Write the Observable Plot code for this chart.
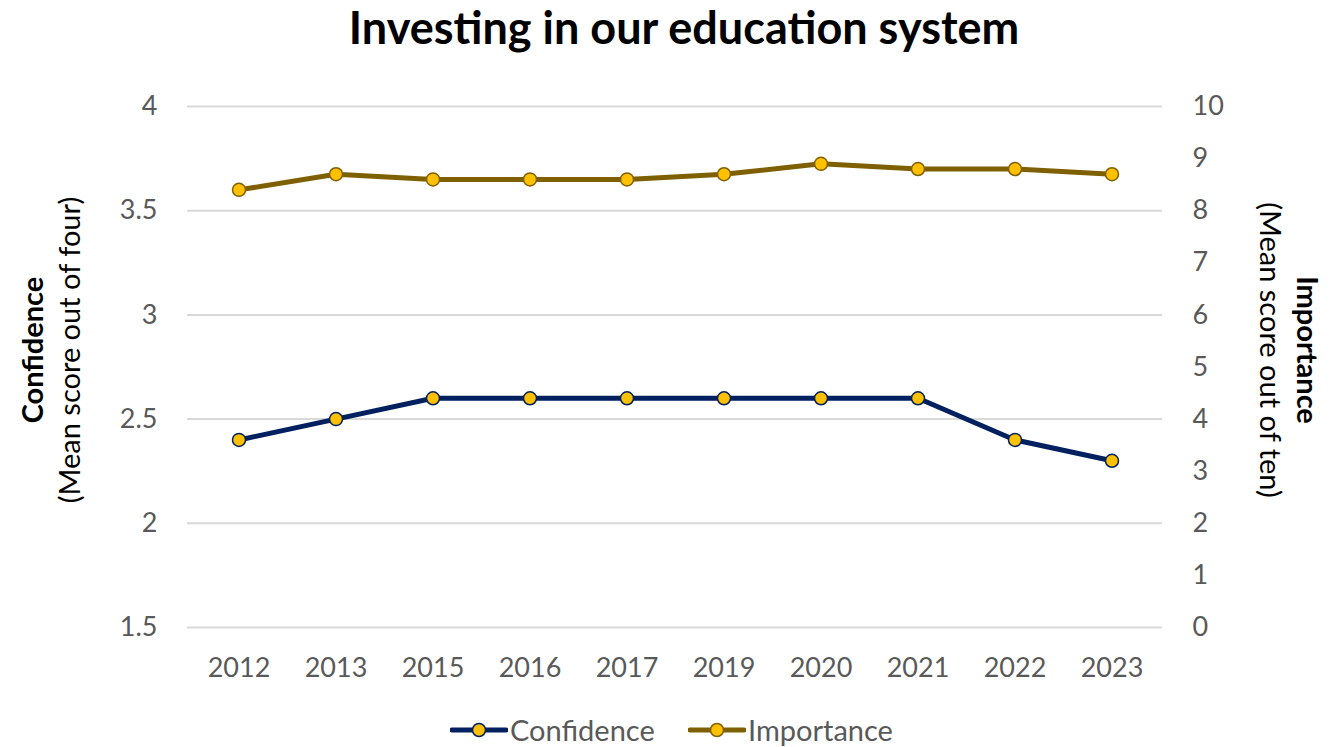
<!DOCTYPE html>
<html>
<head>
<meta charset="utf-8">
<script src="https://cdn.jsdelivr.net/npm/d3@7"></script>
<script src="https://cdn.jsdelivr.net/npm/@observablehq/plot@0.6"></script>
<style>
  html, body { margin: 0; padding: 0; background: #fff; }
  body { width: 1340px; height: 747px; overflow: hidden; font-family: Lato, "Open Sans", sans-serif; }
  #title { height: 60px; line-height: 54px; text-align: center; font-weight: bold; font-size: 45px; color: #000; padding-left: 28px; box-sizing: border-box; }
  #chart svg { display: block; }
  #legend { height: 47px; position: relative; font-size: 29px; color: #595959; }
  .item { position: absolute; top: 12px; display: flex; align-items: center; }
</style>
</head>
<body>
<div id="title">Investing in our education system</div>
<div id="chart"></div>
<div id="legend"></div>
<script>
const years = ["2012","2013","2015","2016","2017","2019","2020","2021","2022","2023"];
const confidence = [2.4, 2.5, 2.6, 2.6, 2.6, 2.6, 2.6, 2.6, 2.4, 2.3];
const importance = [8.4, 8.7, 8.6, 8.6, 8.6, 8.7, 8.9, 8.8, 8.8, 8.7];
const leftTicks = [1.5, 2, 2.5, 3, 3.5, 4];
const rightTicks = [0, 1, 2, 3, 4, 5, 6, 7, 8, 9, 10];

const navy = "#002060", gold = "#7F6000", markerFill = "#FFC000", gray = "#595959";
// right axis (0-10) mapped onto left axis (1.5-4)
const toLeft = v => 1.5 + v * 0.25;
const fromLeft = c => Math.round((c - 1.5) * 4);

const conf = years.map((y, i) => ({year: y, value: confidence[i]}));
const imp = years.map((y, i) => ({year: y, value: importance[i]}));

const W = 1340, H = 640;
const plot = Plot.plot({
  width: W, height: H,
  marginLeft: 187, marginRight: 178, marginTop: 46, marginBottom: 73,
  style: {fontFamily: "Lato, 'Open Sans', sans-serif", fontSize: "27px", color: gray, background: "#fff"},
  x: {type: "band", domain: years, padding: 0},
  y: {domain: [1.5, 4]},
  marks: [
    Plot.gridY(leftTicks, {stroke: "#d9d9d9", strokeOpacity: 1, strokeWidth: 2}),
    Plot.axisX({tickSize: 0, tickPadding: 30, label: null, fill: gray, fontSize: 27}),
    Plot.axisY(leftTicks, {anchor: "left", tickSize: 0, tickPadding: 30, label: null, tickFormat: d => String(d), fill: gray, fontSize: 27}),
    Plot.axisY(rightTicks.map(toLeft), {anchor: "right", tickSize: 0, tickPadding: 30, label: null, tickFormat: d => String(fromLeft(d)), fill: gray, fontSize: 27, textAnchor: "start"}),
    Plot.lineY(imp, {x: "year", y: d => toLeft(d.value), stroke: gold, strokeWidth: 5, strokeLinejoin: "round"}),
    Plot.dot(imp, {x: "year", y: d => toLeft(d.value), r: 6.5, fill: markerFill, stroke: gold, strokeWidth: 1.5}),
    Plot.lineY(conf, {x: "year", y: "value", stroke: navy, strokeWidth: 5, strokeLinejoin: "round"}),
    Plot.dot(conf, {x: "year", y: "value", r: 6.5, fill: markerFill, stroke: navy, strokeWidth: 1.5})
  ]
});
document.getElementById("chart").appendChild(plot);

// Axis titles
const svg = d3.select(plot);
const midY = 290;
const lt = svg.append("text").attr("transform", `translate(43,${midY}) rotate(-90)`)
  .attr("text-anchor", "middle").attr("font-family", "Lato, 'Open Sans', sans-serif").attr("font-size", 29).attr("fill", "#000");
lt.append("tspan").attr("x", 0).attr("dy", 0).attr("font-weight", "bold").text("Confidence");
lt.append("tspan").attr("x", 0).attr("dy", 37).text("(Mean score out of four)");
const rt = svg.append("text").attr("transform", `translate(1297,${midY}) rotate(90)`)
  .attr("text-anchor", "middle").attr("font-family", "Lato, 'Open Sans', sans-serif").attr("font-size", 29).attr("fill", "#000");
rt.append("tspan").attr("x", 0).attr("dy", 0).attr("font-weight", "bold").text("Importance");
rt.append("tspan").attr("x", 0).attr("dy", 37).text("(Mean score out of ten)");

// Legend
const legend = document.getElementById("legend");
[["Confidence", navy, 450], ["Importance", gold, 688]].forEach(([name, color, left]) => {
  const item = document.createElement("div");
  item.className = "item";
  item.style.left = left + "px";
  item.innerHTML = `<svg width="58" height="20"><line x1="2" y1="10" x2="56" y2="10" stroke="${color}" stroke-width="5" stroke-linecap="round"/><circle cx="29" cy="10" r="6.5" fill="${markerFill}" stroke="${color}" stroke-width="1.5"/></svg><span style="margin-left:2px">${name}</span>`;
  legend.appendChild(item);
});
</script>
</body>
</html>
